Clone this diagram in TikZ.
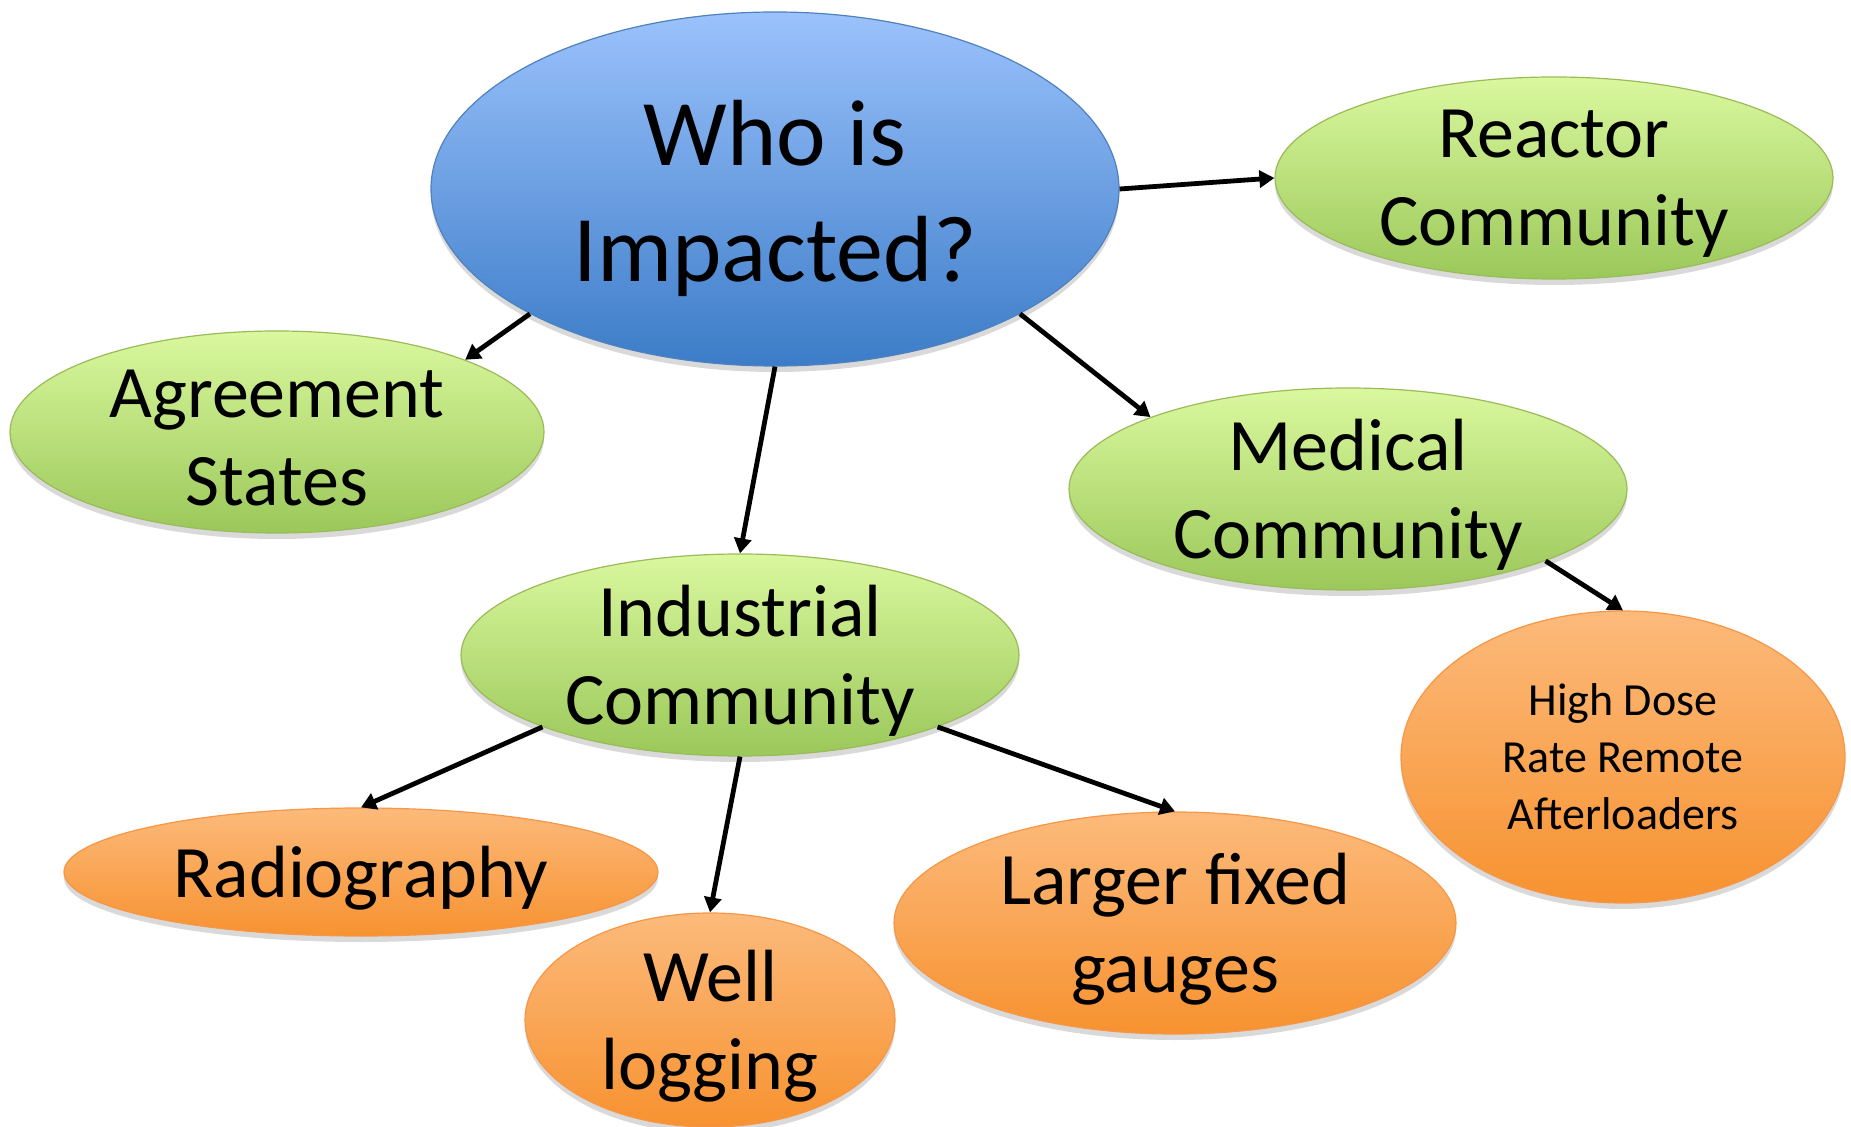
\documentclass[tikz,border=0pt]{standalone}
\usepackage{fontspec}
\setmainfont{Carlito}
\usetikzlibrary{shapes.geometric,shadows,arrows.meta}

\definecolor{bluetop}{RGB}{155,194,252}
\definecolor{bluebot}{RGB}{60,124,200}
\definecolor{blueline}{RGB}{79,129,189}
\definecolor{greentop}{RGB}{218,248,158}
\definecolor{greenbot}{RGB}{155,200,90}
\definecolor{greenline}{RGB}{155,187,89}
\definecolor{orangetop}{RGB}{252,186,123}
\definecolor{orangebot}{RGB}{247,146,48}
\definecolor{orangeline}{RGB}{247,150,70}

\tikzset{
  bubble/.style={ellipse, inner sep=0pt, line width=0.6pt,
    drop shadow={opacity=0.3, shadow xshift=0pt, shadow yshift=-3pt}},
  bluebubble/.style={bubble, draw=blueline, top color=bluetop, bottom color=bluebot},
  greenbubble/.style={bubble, draw=greenline, top color=greentop, bottom color=greenbot},
  orangebubble/.style={bubble, draw=orangeline, top color=orangetop, bottom color=orangebot},
  bigtext/.style={align=center, inner sep=0pt, yshift=-4.5pt, font=\fontsize{47}{58}\selectfont},
  bubbletext/.style={align=center, inner sep=0pt, yshift=-3pt, font=\fontsize{37}{44}\selectfont},
  smalltext/.style={align=center, inner sep=0pt, font=\fontsize{23}{28.5}\selectfont},
  link/.style={-{Triangle[length=7.5pt,width=8.5pt]}, line width=2.4pt, black}
}

\begin{document}
\begin{tikzpicture}[x=0.5pt,y=0.5pt,yscale=-1,xscale=1]
        \useasboundingbox (0,0) rectangle (1851,1127);

        %Shape: Ellipse [id:main]
        \node [bluebubble, minimum width=344pt, minimum height=177pt] (who) at (775,189) {};
        %Shape: Ellipse [id:reactor]
        \node [greenbubble, minimum width=279pt, minimum height=101pt] (reactor) at (1554,178) {};
        %Shape: Ellipse [id:agreement]
        \node [greenbubble, minimum width=267pt, minimum height=101pt] (agreement) at (277,432) {};
        %Shape: Ellipse [id:medical]
        \node [greenbubble, minimum width=279pt, minimum height=101pt] (medical) at (1348,489) {};
        %Shape: Ellipse [id:industrial]
        \node [greenbubble, minimum width=279pt, minimum height=101pt] (industrial) at (740,655) {};
        %Shape: Ellipse [id:hdr]
        \node [orangebubble, minimum width=222pt, minimum height=146pt] (hdr) at (1623,757) {};
        %Shape: Ellipse [id:radiography]
        \node [orangebubble, minimum width=297pt, minimum height=64pt] (radio) at (361,872) {};
        %Shape: Ellipse [id:well]
        \node [orangebubble, minimum width=185pt, minimum height=107pt] (well) at (710,1020) {};
        %Shape: Ellipse [id:gauges]
        \node [orangebubble, minimum width=281pt, minimum height=111pt] (gauges) at (1175,923) {};

        % Text Node
        \node [bigtext] (who-t) at (who) {Who is\\Impacted?};
        % Text Node
        \node [bubbletext] (reactor-t) at (reactor) {Reactor\\Community};
        % Text Node
        \node [bubbletext] (agreement-t) at (agreement) {Agreement\\States};
        % Text Node
        \node [bubbletext] (medical-t) at (medical) {Medical\\Community};
        % Text Node
        \node [bubbletext] (industrial-t) at (industrial) {Industrial\\Community};
        % Text Node
        \node [smalltext] (hdr-t) at (hdr) {High Dose\\Rate Remote\\Afterloaders};
        % Text Node
        \node [bubbletext] (radio-t) at (radio) {Radiography};
        % Text Node
        \node [bubbletext] (well-t) at (well) {Well\\logging};
        % Text Node
        \node [bubbletext] (gauges-t) at (gauges) {Larger fixed\\gauges};

        %Straight Lines
        \draw [link] (who.east) -- (reactor.west);
        \draw [link] (who.207) -- (agreement.21);
        \draw [link] (who.south) -- (industrial.north);
        \draw [link] (who.333) -- (medical.160);
        \draw [link] (medical.-20) -- (hdr.north);
        \draw [link] (industrial.200) -- (radio.north);
        \draw [link] (industrial.south) -- (well.north);
        \draw [link] (industrial.-20) -- (gauges.north);

\end{tikzpicture}
\end{document}
